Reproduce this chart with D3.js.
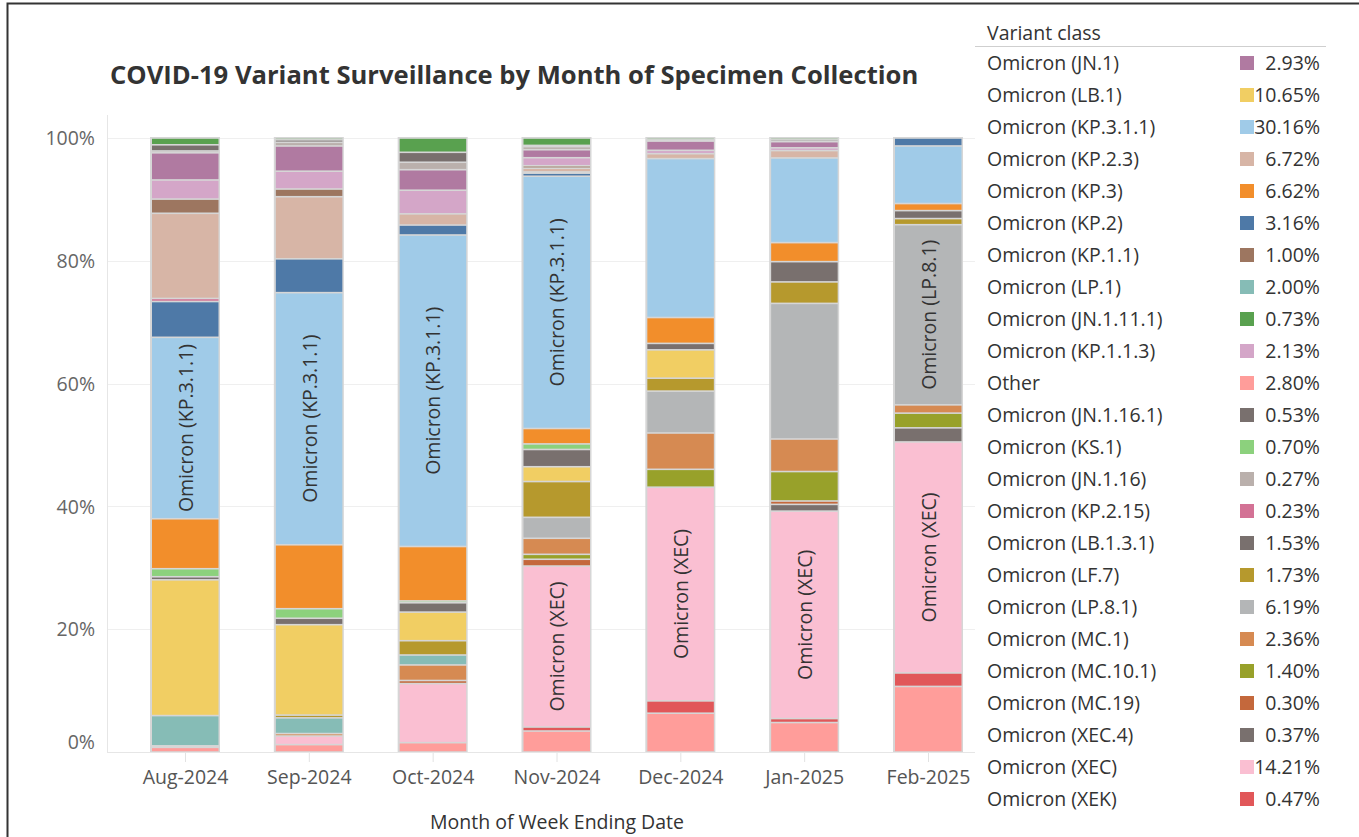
<!DOCTYPE html>
<html>
<head>
<meta charset="utf-8">
<script src="https://cdn.jsdelivr.net/npm/d3@7"></script>
<style>
    body { margin: 0; background: #fff; font-family: "Open Sans", sans-serif; }
    svg { display: block; }
</style>
</head>
<body>
<svg id="chart" width="1359" height="837"></svg>
<script>
const months = ['Aug-2024', 'Sep-2024', 'Oct-2024', 'Nov-2024', 'Dec-2024', 'Jan-2025', 'Feb-2025'];

// legend, as listed on the right
const legendNames = ['Omicron (JN.1)', 'Omicron (LB.1)', 'Omicron (KP.3.1.1)', 'Omicron (KP.2.3)', 'Omicron (KP.3)',
    'Omicron (KP.2)', 'Omicron (KP.1.1)', 'Omicron (LP.1)', 'Omicron (JN.1.11.1)', 'Omicron (KP.1.1.3)', 'Other',
    'Omicron (JN.1.16.1)', 'Omicron (KS.1)', 'Omicron (JN.1.16)', 'Omicron (KP.2.15)', 'Omicron (LB.1.3.1)',
    'Omicron (LF.7)', 'Omicron (LP.8.1)', 'Omicron (MC.1)', 'Omicron (MC.10.1)', 'Omicron (MC.19)',
    'Omicron (XEC.4)', 'Omicron (XEC)', 'Omicron (XEK)'];
const legendPct = ['2.93%', '10.65%', '30.16%', '6.72%', '6.62%', '3.16%', '1.00%', '2.00%', '0.73%', '2.13%', '2.80%',
    '0.53%', '0.70%', '0.27%', '0.23%', '1.53%', '1.73%', '6.19%', '2.36%', '1.40%', '0.30%', '0.37%', '14.21%', '0.47%'];
const legendColors = ['#B07AA1', '#F1CE63', '#A0CBE8', '#D7B5A6', '#F28E2B', '#4E79A7', '#9D7660', '#86BCB6', '#59A14F',
    '#D4A6C8', '#FF9D9A', '#79706E', '#8CD17D', '#BAB0AC', '#D37295', '#79706E', '#B6992D', '#B4B6B7', '#D68A52',
    '#98A12A', '#C4683C', '#79706E', '#FABFD2', '#E15759'];

// stacking order inside each bar, top to bottom
const stackOrder = ['Omicron (JN.1.11.1)', 'Omicron (JN.1.16.1)', 'Omicron (JN.1.16)', 'Omicron (JN.1)',
    'Omicron (KP.1.1.3)', 'Omicron (KP.1.1)', 'Omicron (KP.2.3)', 'Omicron (KP.2.15)', 'Omicron (KP.2)',
    'Omicron (KP.3.1.1)', 'Omicron (KP.3)', 'Omicron (KS.1)', 'Omicron (LB.1.3.1)', 'Omicron (LB.1)',
    'Omicron (LF.7)', 'Omicron (LP.1)', 'Omicron (LP.8.1)', 'Omicron (MC.1)', 'Omicron (MC.10.1)',
    'Omicron (MC.19)', 'Omicron (XEC.4)', 'Omicron (XEC)', 'Omicron (XEK)', 'Other'];

// share per month (%), same order as stackOrder
const aug = [1.1, 1.0, 0.3, 4.4, 3.1, 2.3, 13.8, 0.5, 5.8, 29.4, 8.1, 1.3, 0.5, 22.0, 0, 4.9, 0, 0, 0, 0, 0, 0.25, 0, 0.75];
const sep = [0.3, 0.4, 0.6, 4.1, 2.9, 1.25, 10.1, 0, 5.5, 41.0, 10.4, 1.55, 1.05, 14.7, 0.45, 2.55, 0, 0.4, 0, 0, 0, 1.4, 0, 1.2];
const oct = [2.3, 1.6, 1.2, 3.3, 3.8, 0, 1.8, 0, 1.6, 50.1, 8.75, 0.3, 1.5, 4.6, 2.3, 1.6, 0, 2.5, 0, 0.5, 0, 9.5, 0, 1.5];
const nov = [1.2, 0.2, 0.5, 1.3, 1.3, 0.4, 0.6, 0.2, 0.5, 40.9, 2.5, 0.9, 2.8, 2.4, 5.8, 0, 3.4, 2.6, 0.8, 1.1, 0, 26.1, 0.65, 3.4];
const dec = [0.3, 0.2, 0, 1.5, 0.55, 0, 0.8, 0, 0, 25.8, 4.2, 0, 1.05, 4.6, 2.1, 0, 6.8, 5.9, 2.9, 0, 0, 34.7, 2.0, 6.3];
const jan = [0.3, 0.3, 0, 1.0, 0.45, 0, 1.2, 0, 0, 13.8, 3.1, 0, 3.3, 0, 3.5, 0, 22.1, 5.3, 4.8, 0.55, 1.1, 33.8, 0.65, 4.8];
const feb = [0, 0, 0, 0, 0, 0, 0, 0, 1.3, 9.4, 1.15, 0, 1.3, 0, 1.0, 0, 29.4, 1.35, 2.4, 0, 2.3, 37.7, 2.2, 10.7];

const yTicks = [0, 0.2, 0.4, 0.6, 0.8, 1];

const monthValues = [aug, sep, oct, nov, dec, jan, feb];
const table = months.map((m, i) => {
    const row = { month: m };
    stackOrder.forEach((k, j) => row[k] = monthValues[i][j]);
    return row;
});
const color = d3.scaleOrdinal().domain(legendNames).range(legendColors);

const svg = d3.select('#chart');
const plotLeft = 107, plotRight = 975, plotBottom = 752, plotTop = 138;
const barWidth = 70;
const fontSize = '19.5px';

const x = d3.scalePoint().domain(months).range([185, 928]);
const y = d3.scaleLinear().domain([0, 1]).range([plotBottom, plotTop]);

// frame
svg.append('path')
    .attr('d', `M7.5,837 V3.5 H1359`)
    .attr('fill', 'none')
    .attr('stroke', '#333')
    .attr('stroke-width', 2);

svg.append('text')
    .attr('x', 110).attr('y', 84)
    .style('font-size', '25.6px').style('font-weight', 700)
    .attr('fill', '#333')
    .text('COVID-19 Variant Surveillance by Month of Specimen Collection');

// grid
svg.append('g').selectAll('line')
    .data(yTicks.slice(1))
    .join('line')
    .attr('x1', plotLeft).attr('x2', plotRight)
    .attr('y1', d => Math.round(y(d)) + 0.5).attr('y2', d => Math.round(y(d)) + 0.5)
    .attr('stroke', '#efefef');
svg.append('line')
    .attr('x1', plotLeft + 0.5).attr('x2', plotLeft + 0.5).attr('y1', 115).attr('y2', plotBottom)
    .attr('stroke', '#e6e6e6');

const yAxis = svg.append('g')
    .attr('transform', `translate(${plotLeft},0)`)
    .call(d3.axisLeft(y).tickValues(yTicks).tickFormat(d3.format('.0%')).tickSize(0).tickPadding(12));
yAxis.select('.domain').remove();
yAxis.selectAll('text')
    .style('font-size', fontSize).style('font-family', '"Open Sans", sans-serif')
    .attr('fill', '#666')
    .attr('dy', d => d === 0 ? '-0.2em' : '0.34em');

const xAxis = svg.append('g')
    .attr('transform', `translate(0,${plotBottom})`)
    .call(d3.axisBottom(x).tickSize(10).tickPadding(8));
xAxis.select('.domain').remove();
xAxis.selectAll('line').attr('stroke', '#e2e2e2');
xAxis.selectAll('text')
    .style('font-size', fontSize).style('font-family', '"Open Sans", sans-serif')
    .attr('fill', '#555');
svg.append('line')
    .attr('x1', plotLeft).attr('x2', plotRight).attr('y1', plotBottom + 0.5).attr('y2', plotBottom + 0.5)
    .attr('stroke', '#e6e6e6');

svg.append('text')
    .attr('x', 557).attr('y', 829)
    .attr('text-anchor', 'middle')
    .style('font-size', fontSize)
    .attr('fill', '#333')
    .text('Month of Week Ending Date');

// bars
const series = d3.stack()
    .keys(stackOrder.slice().reverse())
    .offset(d3.stackOffsetExpand)(table);

svg.append('g').selectAll('rect')
    .data(months)
    .join('rect')
    .attr('x', d => x(d) - barWidth / 2)
    .attr('y', y(1) - 1)
    .attr('width', barWidth)
    .attr('height', y(0) - y(1) + 1)
    .attr('fill', '#d6d6d6');

const segs = svg.append('g').selectAll('g')
    .data(series)
    .join('g')
    .attr('fill', d => color(d.key));

segs.selectAll('rect')
    .data(d => d.map(p => Object.assign(p, { key: d.key })))
    .join('rect')
    .attr('x', d => x(d.data.month) - barWidth / 2 + 2)
    .attr('width', barWidth - 3.5)
    .attr('y', d => y(d[1]) + 0.8)
    .attr('height', d => Math.max(0, y(d[0]) - y(d[1]) - 1.6));

// in-bar labels, only where the text fits
const labelled = ['Omicron (KP.3.1.1)', 'Omicron (XEC)', 'Omicron (LP.8.1)', 'Omicron (LB.1)'];
const labels = svg.append('g');
series.filter(s => labelled.includes(s.key)).forEach(s => {
    s.forEach(p => {
        const h = y(p[0]) - y(p[1]);
        const cx = x(p.data.month), cy = (y(p[0]) + y(p[1])) / 2;
        const t = labels.append('text')
            .attr('transform', `translate(${cx + 1},${cy}) rotate(-90)`)
            .attr('text-anchor', 'middle')
            .attr('dy', '0.35em')
            .style('font-size', fontSize)
            .attr('fill', '#333')
            .text(s.key);
        if (t.node().getComputedTextLength() + 8 > h) t.remove();
    });
});

// legend
const legend = svg.append('g');
legend.append('text')
    .attr('x', 987).attr('y', 33).attr('dy', '0.35em')
    .style('font-size', fontSize).attr('fill', '#333')
    .text('Variant class');
legend.append('line')
    .attr('x1', 975).attr('x2', 1326).attr('y1', 46.5).attr('y2', 46.5)
    .attr('stroke', '#cfcfcf');

const row = legend.selectAll('g.row')
    .data(legendNames)
    .join('g')
    .attr('class', 'row')
    .attr('transform', (d, i) => `translate(0,${63 + i * 32})`);
row.append('text')
    .attr('x', 987).attr('dy', '0.35em')
    .style('font-size', fontSize).attr('fill', '#333')
    .text(d => d);
row.append('rect')
    .attr('x', 1240).attr('y', -7).attr('width', 14).attr('height', 14)
    .attr('fill', d => color(d));
row.append('text')
    .attr('x', 1320).attr('dy', '0.35em')
    .attr('text-anchor', 'end')
    .style('font-size', fontSize).attr('fill', '#333')
    .text((d, i) => legendPct[i]);
</script>
</body>
</html>
